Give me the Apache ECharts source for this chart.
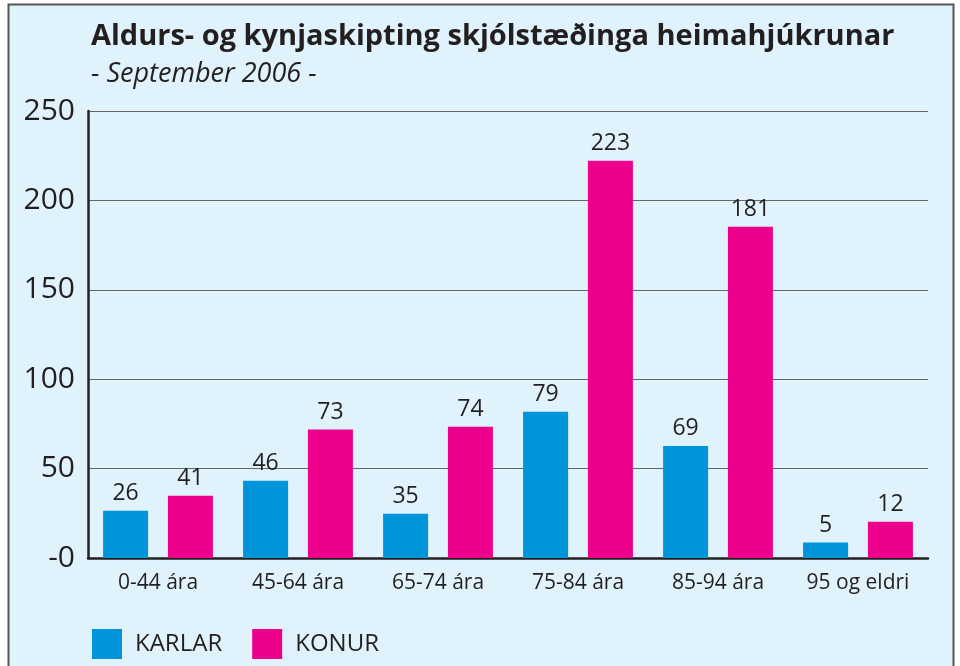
<!DOCTYPE html>
<html>
<head>
<meta charset="utf-8">
<script src="https://cdn.jsdelivr.net/npm/echarts@6/dist/echarts.min.js"></script>
<style>
  html, body { margin: 0; padding: 0; background: #fff; }
  #chart { width: 960px; height: 666px; }
</style>
</head>
<body>
<div id="chart"></div>
<script>
// age groups
var categories = ["0-44 ára", "45-64 ára", "65-74 ára", "75-84 ára", "85-94 ára", "95 og eldri"];
// bar heights as drawn in the picture
var karlar = [26.4, 43.2, 24.8, 81.8, 62.6, 8.6];
var konur = [34.8, 71.8, 73.4, 222.2, 185.3, 20.3];
// numbers printed above the bars
var karlarLabels = [26, 46, 35, 79, 69, 5];
var konurLabels = [41, 73, 74, 223, 181, 12];
var yTicks = [0, 50, 100, 150, 200, 250];

var textColor = "#231f20";
var font = "'Open Sans', 'Noto Sans', sans-serif";

var chart = echarts.init(document.getElementById("chart"));

function barLabel(labels) {
  return {
    show: true,
    position: "top",
    distance: 6,
    color: textColor,
    fontSize: 23,
    fontFamily: font,
    formatter: function (p) {
      return labels[p.dataIndex];
    }
  };
}

chart.setOption({
  animation: false,
  graphic: [
    {
      type: "rect",
      z: -10,
      shape: { x: 8.5, y: 4.5, width: 945, height: 700 },
      style: { fill: "#e0f2fc", stroke: "#555", lineWidth: 2 }
    }
  ],
  title: {
    text: "Aldurs- og kynjaskipting skjólstæðinga heimahjúkrunar",
    subtext: "- September 2006 -",
    left: 86,
    top: 17,
    itemGap: 10,
    textStyle: {
      color: textColor,
      fontSize: 29,
      fontWeight: "bold",
      fontFamily: font
    },
    subtextStyle: {
      color: textColor,
      fontSize: 27,
      fontStyle: "italic",
      fontFamily: font
    }
  },
  legend: {
    left: 87,
    top: 624,
    itemWidth: 30,
    itemHeight: 30,
    itemGap: 30,
    icon: "rect",
    textStyle: { color: textColor, fontSize: 24, fontFamily: font, padding: [0, 0, 0, 8] },
    data: ["KARLAR", "KONUR"]
  },
  grid: { left: 88, right: 32, top: 111, bottom: 108 },
  xAxis: [
    {
      type: "category",
      data: categories,
      axisLine: { lineStyle: { color: textColor, width: 2.5 } },
      axisTick: { length: 35, lineStyle: { color: textColor, width: 1.5 } },
      axisLabel: { color: textColor, fontSize: 21, fontFamily: font, margin: 15 }
    },
    {
      type: "category",
      data: categories,
      position: "bottom",
      axisLine: { show: false },
      axisTick: { inside: true, length: 18, lineStyle: { color: textColor, width: 1.5 } },
      axisLabel: { show: false }
    }
  ],
  yAxis: {
    type: "value",
    min: yTicks[0],
    max: yTicks[yTicks.length - 1],
    interval: 50,
    axisLine: { show: true, lineStyle: { color: textColor, width: 2.5 } },
    axisTick: { show: false },
    splitLine: { lineStyle: { color: "#666", width: 1 } },
    axisLabel: {
      color: textColor,
      fontSize: 30,
      fontFamily: font,
      margin: 13,
      formatter: function (v) {
        return v === 0 ? "-0" : String(v);
      }
    }
  },
  series: [
    {
      name: "KARLAR",
      type: "bar",
      data: karlar,
      barWidth: 45,
      barGap: "44%",
      itemStyle: { color: "#0095d9" },
      label: barLabel(karlarLabels)
    },
    {
      name: "KONUR",
      type: "bar",
      data: konur,
      barWidth: 45,
      itemStyle: { color: "#ec008c" },
      label: barLabel(konurLabels)
    }
  ]
});
</script>
</body>
</html>
